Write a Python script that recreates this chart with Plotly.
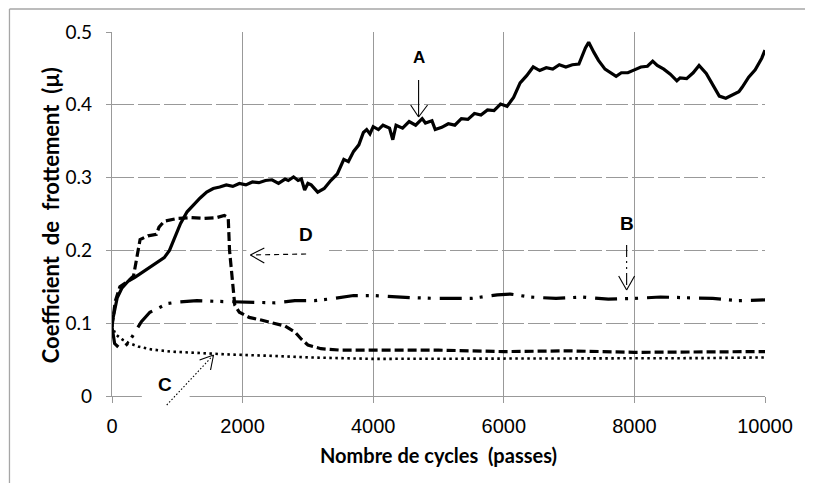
import plotly.graph_objects as go

# ---------------- data ----------------
cycles_A = [0, 30, 80, 150, 250, 350, 500, 650, 800, 880, 950, 1050, 1150, 1250, 1350, 1450,
            1550, 1650, 1750, 1850, 1950, 2050, 2150, 2250, 2350, 2450, 2550, 2650, 2700, 2780,
            2850, 2900, 2950, 3000, 3050, 3150, 3250, 3350, 3450, 3550, 3620, 3700, 3780, 3850,
            3900, 3950, 4000, 4080, 4150, 4250, 4300, 4350, 4450, 4550, 4650, 4750, 4800, 4900,
            4950, 5050, 5150, 5250, 5350, 5450, 5550, 5650, 5750, 5850, 5950, 6050, 6150, 6250,
            6350, 6450, 6550, 6650, 6750, 6850, 6950, 7050, 7150, 7250, 7300, 7380, 7450, 7550,
            7650, 7720, 7800, 7900, 8000, 8100, 8200, 8280, 8350, 8450, 8550, 8650, 8700, 8800,
            8900, 8990, 9100, 9200, 9300, 9400, 9500, 9600, 9650, 9750, 9850, 9950, 10000]
mu_A = [0.100, 0.115, 0.135, 0.148, 0.158, 0.163, 0.172, 0.180, 0.190, 0.200, 0.215, 0.237,
        0.253, 0.263, 0.272, 0.280, 0.285, 0.287, 0.290, 0.288, 0.292, 0.290, 0.294, 0.293,
        0.296, 0.297, 0.292, 0.298, 0.296, 0.301, 0.296, 0.298, 0.283, 0.292, 0.290, 0.280,
        0.285, 0.296, 0.305, 0.325, 0.322, 0.336, 0.345, 0.362, 0.366, 0.360, 0.370, 0.366,
        0.372, 0.368, 0.352, 0.372, 0.368, 0.377, 0.372, 0.381, 0.375, 0.378, 0.366, 0.369,
        0.374, 0.372, 0.381, 0.380, 0.388, 0.386, 0.393, 0.392, 0.401, 0.398, 0.410, 0.430,
        0.440, 0.452, 0.447, 0.451, 0.449, 0.455, 0.452, 0.455, 0.456, 0.478, 0.486, 0.472,
        0.461, 0.449, 0.443, 0.439, 0.444, 0.444, 0.448, 0.452, 0.453, 0.460, 0.454, 0.449,
        0.442, 0.433, 0.437, 0.436, 0.444, 0.454, 0.443, 0.428, 0.412, 0.409, 0.413, 0.418,
        0.424, 0.438, 0.448, 0.464, 0.475]

cycles_B = [0, 40, 100, 180, 250, 350, 450, 580, 850, 1000, 1300, 1600, 1900, 2200, 2500,
            2800, 3100, 3400, 3700, 4000, 4300, 4600, 5000, 5500, 5900, 6100, 6400, 6800,
            7200, 7600, 8000, 8400, 8800, 9200, 9600, 10000]
mu_B = [0.095, 0.072, 0.067, 0.067, 0.073, 0.087, 0.102, 0.115, 0.127, 0.129, 0.131, 0.130,
        0.129, 0.129, 0.128, 0.131, 0.131, 0.134, 0.138, 0.138, 0.136, 0.135, 0.134, 0.134,
        0.139, 0.140, 0.136, 0.134, 0.136, 0.133, 0.134, 0.136, 0.135, 0.134, 0.131, 0.132]

cycles_C = [0, 50, 150, 250, 400, 600, 900, 1300, 1800, 2500, 3000, 4000, 5000, 6000, 7000,
            8000, 9000, 10000]
mu_C = [0.098, 0.085, 0.078, 0.073, 0.068, 0.064, 0.061, 0.059, 0.057, 0.055, 0.053, 0.051,
        0.051, 0.052, 0.052, 0.051, 0.052, 0.053]

cycles_D = [0, 50, 120, 250, 330, 380, 430, 550, 680, 720, 800, 1000, 1200, 1400, 1600, 1720,
            1780, 1800, 1840, 1880, 1950, 2100, 2300, 2500, 2650, 2800, 2900, 3000, 3200, 3500,
            4000, 5000, 6000, 7000, 8000, 9000, 10000]
mu_D = [0.095, 0.130, 0.150, 0.158, 0.165, 0.190, 0.215, 0.220, 0.222, 0.232, 0.240, 0.244,
        0.245, 0.244, 0.245, 0.248, 0.245, 0.200, 0.160, 0.125, 0.115, 0.108, 0.104, 0.100,
        0.096, 0.088, 0.078, 0.070, 0.065, 0.063, 0.063, 0.063, 0.061, 0.062, 0.060, 0.061,
        0.061]

x_ticks = [0, 2000, 4000, 6000, 8000, 10000]
x_tick_labels = ["0", "2000", "4000", "6000", "8000", "10000"]
y_ticks = [0, 0.1, 0.2, 0.3, 0.4, 0.5]
y_tick_labels = ["0", "0.1", "0.2", "0.3", "0.4", "0.5"]

x_title = "Nombre de cycles\u00a0 (passes)"
y_title = "Coefficient\u00a0 de\u00a0 frottement\u00a0 (µ)"

# ---------------- geometry ----------------
OFF = 8  # page body margin of the browser
W, H = 813 - 2 * OFF, 491 - 2 * OFF
L, T = 112 - OFF, 32 - OFF
R = W - (768 - OFF)
B = H - (396 - OFF)
PW, PH = W - L - R, H - T - B


def P(px, py):
    """window pixel position -> paper coordinates"""
    fx, fy = px - OFF, py - OFF
    return (fx - L) / PW, (T + PH - fy) / PH


GRID = "#999999"
FRAME = "#a6a6a6"

fig = go.Figure()
fig.add_trace(go.Scatter(x=cycles_D, y=mu_D, mode="lines",
                         line=dict(color="black", width=3.2, dash="9px,4px")))
fig.add_trace(go.Scatter(x=cycles_B, y=mu_B, mode="lines",
                         line=dict(color="black", width=3.2, dash="22px,8px,3px,7px,3px,9px")))
fig.add_trace(go.Scatter(x=cycles_C, y=mu_C, mode="lines",
                         line=dict(color="black", width=2.6, dash="2.5px,3.5px")))
fig.add_trace(go.Scatter(x=cycles_A, y=mu_A, mode="lines",
                         line=dict(color="black", width=3.2)))

shapes = []
# outer chart frame (only top and left edges are inside the picture)
for p0, p1 in [((9, 9), (813, 9)), ((9, 9), (9, 491))]:
    xa, ya = P(*p0)
    xb, yb = P(*p1)
    shapes.append(dict(type="line", xref="paper", yref="paper", x0=xa, y0=ya, x1=xb, y1=yb,
                       line=dict(color=FRAME, width=1.3), layer="below"))
# white label boxes
for (a, b, c, d) in [(247, 222, 330, 262), (142, 368, 190, 402)]:
    xa, ya = P(a, b)
    xb, yb = P(c, d)
    shapes.append(dict(type="rect", xref="paper", yref="paper", x0=xa, y0=yb, x1=xb, y1=ya,
                       line=dict(width=0), fillcolor="white", layer="above"))


def seg(p0, p1, dash="solid"):
    xa, ya = P(*p0)
    xb, yb = P(*p1)
    shapes.append(dict(type="line", xref="paper", yref="paper", x0=xa, y0=ya, x1=xb, y1=yb,
                       line=dict(color="black", width=1.1, dash=dash), layer="above"))


# A arrow
seg((420, 80), (420, 117))
seg((412, 105), (420, 117))
seg((429, 105), (420, 117))
# B arrow
seg((629, 245), (629, 289), dash="12px,4px,2px,4px,2px,4px")
seg((621, 276), (629, 290))
seg((637, 276), (629, 290))
# D arrow
seg((307, 254), (252, 255), dash="5px,4px")
seg((265, 248), (251, 255))
seg((265, 263), (251, 255))
# C arrow
seg((167, 405), (213, 356), dash="1.5px,2px")
seg((200, 360), (214, 355))
seg((211, 370), (214, 355))

annotations = []
for txt, (px, py), size in [("A", (420, 58), 17), ("B", (629, 223), 19),
                            ("C", (165, 384), 19), ("D", (307, 234), 19)]:
    ax_, ay_ = P(px, py)
    annotations.append(dict(text="<b>" + txt + "</b>", x=ax_, y=ay_, xref="paper", yref="paper",
                            showarrow=False, xanchor="center", yanchor="middle",
                            font=dict(family="Liberation Sans, Arial", size=size, color="black")))
tx, ty = P(440, 455)
annotations.append(dict(text="<b>" + x_title + "</b>", x=tx, y=ty, xref="paper", yref="paper",
                        showarrow=False, xanchor="center", yanchor="middle",
                        font=dict(family="Lato", size=20, color="black")))
tx, ty = P(50, 215)
annotations.append(dict(text="<b>" + y_title + "</b>", x=tx, y=ty, xref="paper", yref="paper",
                        showarrow=False, xanchor="center", yanchor="middle", textangle=-90,
                        font=dict(family="Lato", size=22, color="black")))

fig.update_layout(
    width=W, height=H,
    margin=dict(l=L, r=R, t=T, b=B, pad=0),
    paper_bgcolor="white", plot_bgcolor="white",
    showlegend=False,
    shapes=shapes, annotations=annotations,
    xaxis=dict(range=[0, 10000], tickvals=x_ticks, ticktext=x_tick_labels,
               showgrid=True, gridcolor=GRID, gridwidth=1.3, zeroline=False,
               showline=True, linecolor=GRID, linewidth=1.3,
               ticks="outside", ticklen=6, tickcolor=GRID, tickwidth=1.3,
               tickfont=dict(family="Liberation Sans, Arial", size=20, color="black"),
               ticklabelstandoff=6),
    yaxis=dict(range=[0, 0.5], tickvals=y_ticks, ticktext=y_tick_labels,
               showgrid=True, gridcolor=GRID, gridwidth=1.3, griddash="22px,4px",
               zeroline=False,
               showline=True, linecolor=GRID, linewidth=1.3,
               ticks="outside", ticklen=5, tickcolor=GRID, tickwidth=1.3,
               tickfont=dict(family="Lato", size=19, color="black"),
               ticklabelstandoff=10),
)

fig.write_html("out.html")
